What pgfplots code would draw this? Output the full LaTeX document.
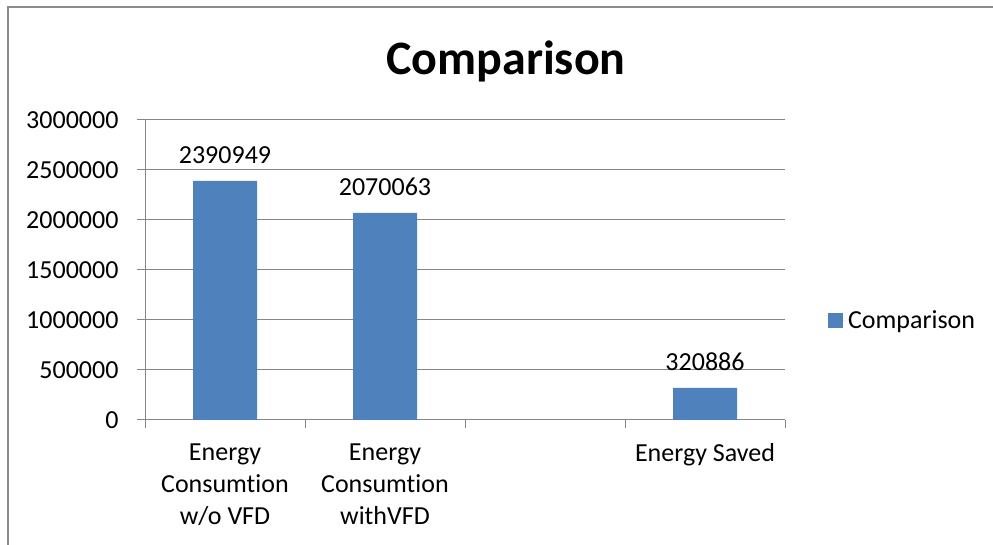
\documentclass[border=0pt]{standalone}
\usepackage{pgfplots}
\pgfplotsset{compat=1.18}
\usepackage{fontspec}
\setmainfont{Carlito}[Ligatures=NoCommon]
\definecolor{barblue}{HTML}{4F81BD}
\definecolor{gridgray}{HTML}{868686}
\definecolor{framegray}{HTML}{8C8C8C}
\begin{document}
\begin{tikzpicture}
\useasboundingbox (0,0) rectangle (993pt,545pt);
\draw[color=framegray, line width=1.3pt] (8pt,0) -- (8pt,538pt) -- (993pt,538pt);
\node[anchor=base, font=\fontsize{48}{56}\selectfont\bfseries] at (506pt,470pt) {Comparison};
\begin{axis}[
  at={(145pt,125pt)}, anchor=south west,
  scale only axis, width=640pt, height=300pt,
  ymin=0, ymax=3000000, xmin=-0.5, xmax=3.5,
  axis x line*=bottom, axis y line*=left,
  axis line style={gridgray, line width=1pt},
  ytick={0,500000,1000000,1500000,2000000,2500000,3000000},
  yticklabels={0,500000,1000000,1500000,2000000,2500000,3000000},
  ymajorgrids, grid style={gridgray, line width=1pt},
  tick align=outside, major tick length=8pt, minor tick length=8pt,
  major y tick style={gridgray, line width=1pt},
  major x tick style={draw=none},
  minor x tick style={gridgray, line width=1pt},
  xtick={0,1,3},
  xticklabels={{Energy\\Consumtion\\w/o VFD},{Energy\\Consumtion\\withVFD},{Energy Saved}},
  minor xtick={-0.5,0.5,1.5,2.5,3.5},
  yticklabel style={font=\fontsize{26}{32}\selectfont, black, xshift=-15pt},
  xticklabel style={font=\fontsize{26}{32}\selectfont, black, align=center, anchor=north, yshift=-12pt},
  scaled y ticks=false,
  ybar, bar width=64pt,
  nodes near coords, point meta=explicit symbolic,
  every node near coord/.append style={font=\fontsize{26}{32}\selectfont, black, yshift=14pt},
  legend style={at={(1.067,0.333)}, anchor=west, draw=none, inner sep=0pt, font=\fontsize{26}{32}\selectfont},
  legend image code/.code={\fill[barblue] (0pt,-7.5pt) rectangle (15pt,7.5pt); \path (0pt,0pt) -- (18pt,0pt);},
]
\addplot[fill=barblue, draw=none] coordinates {(0,2390949) [2390949] (1,2070063) [2070063] (3,320886) [320886]};
\addlegendentry{Comparison}
\end{axis}
\end{tikzpicture}
\end{document}
